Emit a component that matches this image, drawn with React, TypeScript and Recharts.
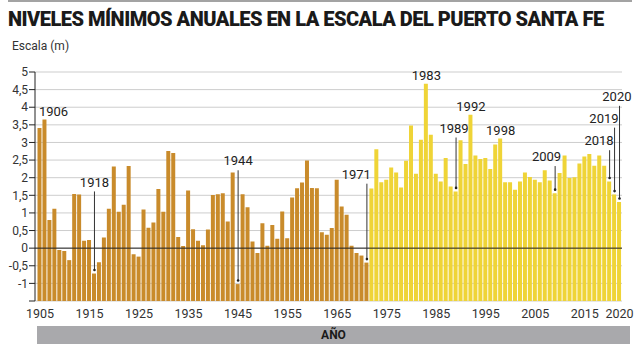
import React from 'react';
import {
  BarChart,
  Bar,
  Cell,
  XAxis,
  YAxis,
  CartesianGrid,
  ReferenceLine,
  ReferenceDot,
} from 'recharts';

const START_YEAR = 1905;

// yearly minimum, metres on the Santa Fe port gauge (ochre bars)
const EARLY_LEVELS = [
  3.41, 3.65, 0.8, 1.12, -0.05, -0.08, -0.34, 1.54, 1.52, 0.21,
  0.23, -0.72, -0.4, 0.3, 1.12, 2.32, 1.03, 1.23, 2.33, -0.17,
  -0.24, 1.1, 0.58, 0.73, 1.68, 1.03, 2.76, 2.7, 0.32, 0.06,
  1.64, 0.54, 0.21, 0.08, 0.53, 1.51, 1.53, 1.56, 0.76, 2.15,
  -1.02, 1.53, 1.16, 0.19, -0.14, 0.71, 0.07, 0.66, 0.27, 1.04,
  0.28, 1.44, 1.7, 1.86, 2.49, 1.71, 1.7, 0.45, 0.38, 0.57,
  1.94, 1.18, 0.95, 0.07, -0.14, -0.21, -0.41,
];

// later years (yellow bars)
const LATE_LEVELS = [
  1.69, 2.81, 1.87, 1.94, 2.29, 2.15, 1.72, 2.48, 3.48, 2.11,
  3.08, 4.67, 3.22, 2.11, 1.89, 2.56, 1.75, 1.61, 3.06, 2.39,
  3.79, 2.63, 2.53, 2.56, 2.25, 2.94, 3.11, 1.87, 1.87, 1.66,
  1.89, 2.15, 2.02, 1.94, 1.87, 2.21, 1.92, 1.56, 2.13, 2.63,
  1.99, 2.01, 2.4, 2.6, 2.67, 2.34, 2.63, 2.34, 1.89, 1.52,
  1.31,
];

const Y_TICKS = [-1.5, -1, -0.5, 0, 0.5, 1, 1.5, 2, 2.5, 3, 3.5, 4, 4.5, 5];
const X_TICK_LABELS = ['1905', '1915', '1925', '1935', '1945', '1955', '1965', '1975', '1985', '1995', '2005', '2015', '2020'];

// callouts; `bar` is the bar the reference points at (its labels don't
// always match the bar count), `level` is where the text sits (m)
const NOTES = [
  { text: '1906', bar: 1906, level: null },
  { text: '1918', bar: 1916, level: 1.75 },
  { text: '1944', bar: 1945, level: 2.35 },
  { text: '1971', bar: 1971, level: 1.97 },
  { text: '1983', bar: 1983, level: null },
  { text: '1989', bar: 1989, level: 3.28 },
  { text: '1992', bar: 1992, level: null },
  { text: '1998', bar: 1998, level: null },
  { text: '2009', bar: 2009, level: 2.47 },
  { text: '2018', bar: 2020, level: 2.92 },
  { text: '2019', bar: 2021, level: 3.56 },
  { text: '2020', bar: 2022, level: 4.18 },
];

const NOTE_ALIGN: Record<string, { anchor: 'start' | 'middle' | 'end'; dx: number }> = {
  '1906': { anchor: 'start', dx: -6 },
  '1971': { anchor: 'end', dx: 4 },
  '1989': { anchor: 'middle', dx: -2 },
  '2009': { anchor: 'end', dx: 6 },
  '2018': { anchor: 'end', dx: 4 },
  '2019': { anchor: 'end', dx: 4 },
  '2020': { anchor: 'end', dx: 12 },
};

const FLOOR = -1.5;
const OCHRE = '#c98b2b';
const YELLOW = '#efd437';
const FONT = 'Roboto, "Noto Sans", sans-serif';

const LEVELS = [...EARLY_LEVELS, ...LATE_LEVELS];
const data = LEVELS.map((level, i) => ({
  year: START_YEAR + i,
  level,
  late: i >= EARLY_LEVELS.length,
}));
const lastYear = data[data.length - 1].year;
const levelOf = (year: number) => data[year - START_YEAR].level;

const xTicks = X_TICK_LABELS.map((t, k) => (k === X_TICK_LABELS.length - 1 ? lastYear : Number(t)));
const xTickText = new Map(xTicks.map((y, k) => [y, X_TICK_LABELS[k]]));

function fmtMeters(v: number) {
  if (v === FLOOR) return '';
  return String(v).replace('.', ',');
}

export default function App() {
  return (
    <div style={{ position: 'absolute', left: 0, top: 0, width: 640, height: 350, background: '#fff', fontFamily: FONT }}>
      <div style={{ position: 'absolute', left: 8, top: 0, width: 624, height: 2, background: '#a3a3a3' }} />
      <div
        style={{
          position: 'absolute', left: 8, top: 9, fontSize: 20, lineHeight: '21px',
          fontWeight: 900, letterSpacing: -0.5, color: '#1a1a1a', whiteSpace: 'nowrap',
        }}
      >
        NIVELES MÍNIMOS ANUALES EN LA ESCALA DEL PUERTO SANTA FE
      </div>
      <div style={{ position: 'absolute', left: 12, top: 38, fontSize: 12, lineHeight: '16px', color: '#333' }}>
        Escala (m)
      </div>

      <div style={{ position: 'absolute', left: 0, top: 0 }}>
        <BarChart
          width={640}
          height={350}
          data={data}
          margin={{ top: 72, right: 18, bottom: 29, left: 0 }}
          barSize={4}
        >
          <CartesianGrid vertical={false} stroke="#cdcdcd" strokeWidth={1} />
          <XAxis
            dataKey="year"
            type="category"
            ticks={xTicks}
            interval={0}
            tickFormatter={(y) => xTickText.get(Number(y)) ?? ''}
            axisLine={false}
            tickLine={false}
            tickSize={0}
            tickMargin={8}
            height={20}
            padding={{ left: 2.5, right: 0 }}
            tick={{ fontSize: 12.5, fill: '#333' }}
          />
          <YAxis
            domain={[FLOOR, 5]}
            ticks={Y_TICKS}
            interval={0}
            tickFormatter={fmtMeters}
            width={35}
            axisLine={{ stroke: '#222' }}
            tickLine={{ stroke: '#222' }}
            tickSize={6}
            tickMargin={1}
            tick={{ fontSize: 12, fill: '#333' }}
            allowDataOverflow
          />
          <Bar dataKey={(d: { level: number }) => [FLOOR, d.level]} isAnimationActive={false}>
            {data.map((d) => (
              <Cell key={d.year} fill={d.late ? YELLOW : OCHRE} />
            ))}
          </Bar>
          <ReferenceLine y={0} stroke="#222" strokeWidth={1} />
          {NOTES.map((n) => {
            const value = levelOf(n.bar);
            const align = NOTE_ALIGN[n.text] ?? { anchor: 'middle', dx: 0 };
            const textLevel = n.level ?? value + 0.1;
            return (
              <React.Fragment key={n.text}>
                {n.level != null && (
                  <ReferenceLine
                    segment={[
                      { x: n.bar, y: n.level - 0.14 },
                      { x: n.bar, y: value + 0.1 },
                    ]}
                    stroke="#333"
                    strokeWidth={1}
                  />
                )}
                {n.level != null && (
                  <ReferenceDot x={n.bar} y={value + 0.1} r={1.3} fill="#222" stroke="none" />
                )}
                <ReferenceDot
                  x={n.bar}
                  y={textLevel}
                  r={0}
                  ifOverflow="visible"
                  shape={(p: { cx?: number; cy?: number }) => (
                    <text
                      x={(p.cx ?? 0) + align.dx}
                      y={p.cy ?? 0}
                      textAnchor={align.anchor}
                      fontSize={13}
                      fill="#222"
                      fontFamily={FONT}
                    >
                      {n.text}
                    </text>
                  )}
                />
              </React.Fragment>
            );
          })}
        </BarChart>
      </div>

      <div
        style={{
          position: 'absolute', left: 37, top: 326, width: 593, height: 18, background: '#a9a9ac',
          textAlign: 'center', fontSize: 12, fontWeight: 700, lineHeight: '18px', color: '#1a1a1a',
        }}
      >
        AÑO
      </div>
    </div>
  );
}
